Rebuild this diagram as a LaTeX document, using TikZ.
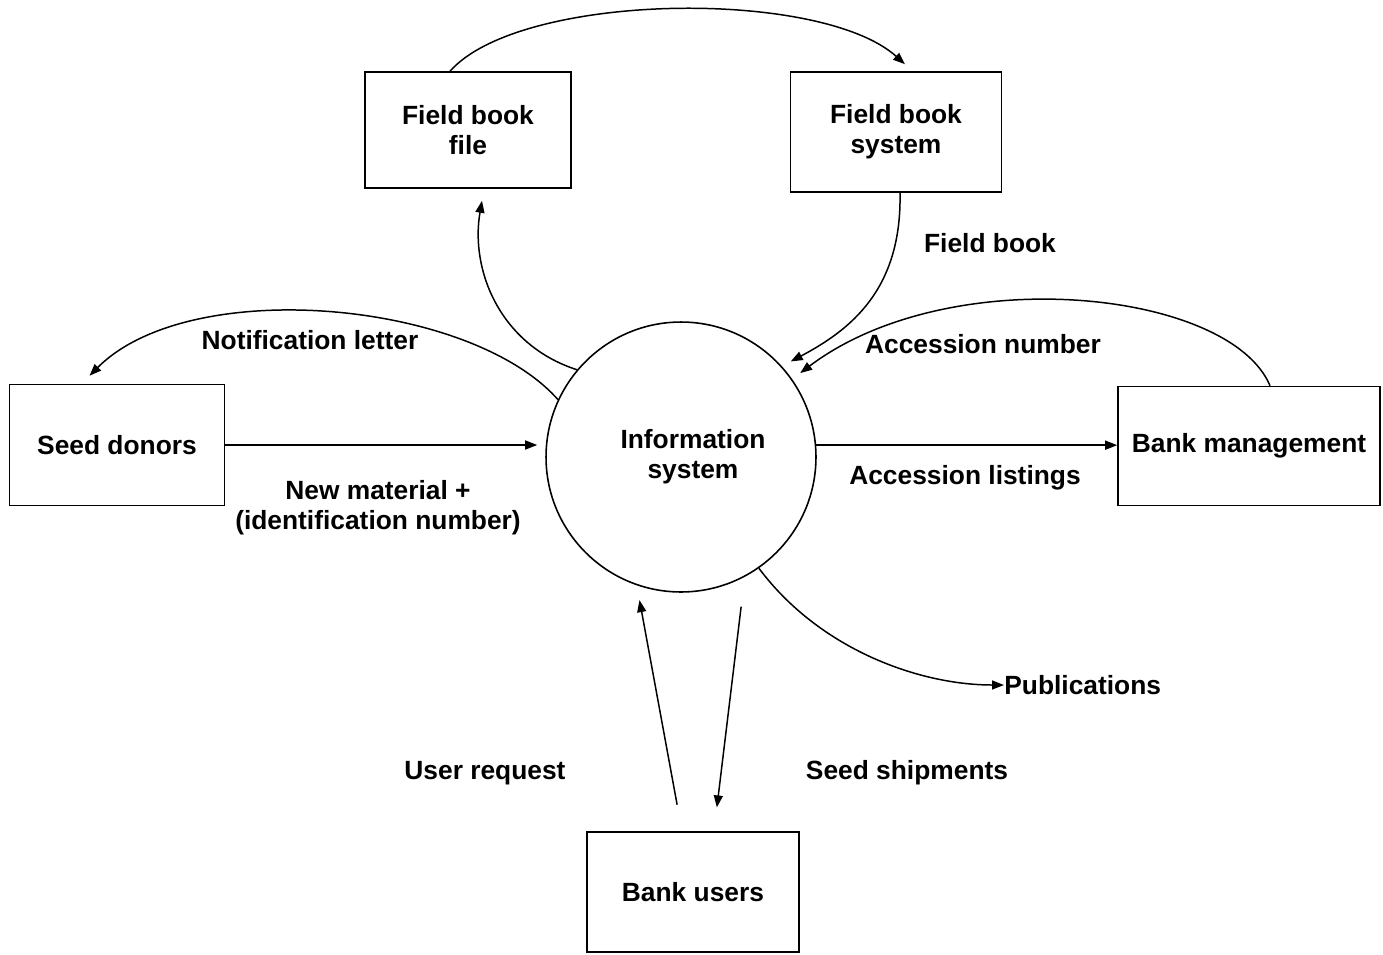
\documentclass[tikz,border=0pt]{standalone}
\usepackage{fontspec}
\setmainfont{Liberation Sans}
\usepackage{tikz}
\usetikzlibrary{arrows.meta,positioning,calc}

\begin{document}
\begin{tikzpicture}[
  x=0.02cm, y=-0.02cm,
  box/.style={rectangle, draw, line width=0.9pt, font=\fontsize{15}{17}\selectfont\bfseries, align=center},
  proc/.style={circle, draw, line width=0.9pt, minimum size=5.4cm, inner sep=0pt},
  lbl/.style={font=\fontsize{15}{17}\selectfont\bfseries, align=center, inner sep=0pt},
  flow/.style={-{Triangle[length=0.24cm,width=0.18cm]}, line width=0.85pt}
]
  \useasboundingbox (0,0) rectangle (1383,954);

  % Process
  \node[proc, label={[lbl, xshift=0.24cm]center:Information\\system}] (info) at (681,457) {};

  % External entities
  \node[box, minimum width=4.12cm, minimum height=2.32cm] (fbfile) at (468,130) {Field book\\file};
  \node[box, minimum width=4.22cm, minimum height=2.4cm] (fbsys) at (896,132) {Field book\\system};
  \node[box, minimum width=4.3cm, minimum height=2.42cm] (donors) at (117,445) {Seed donors};
  \node[box, minimum width=5.24cm, minimum height=2.38cm] (mgmt) at (1249,446) {Bank management};
  \node[box, minimum width=4.24cm, minimum height=2.4cm] (users) at (693,892) {Bank users};
  \node[lbl, anchor=west] (pub) at (1004,685) {Publications};

  % Flows
  \draw[flow] ([xshift=-0.36cm]fbfile.north) .. controls (520,-8) and (820,-12) .. ([xshift=0.18cm,yshift=0.14cm]fbsys.north);
  \draw[flow, shorten >=0.2cm] ([xshift=0.08cm]fbsys.south) .. controls (902,290) and (850,330) .. (info.42);
  \draw[flow, shorten >=0.2cm] ([xshift=0.42cm]mgmt.north) .. controls (1230,290) and (950,260) .. (info.35);
  \draw[flow] (info.140) .. controls (500,345) and (470,270) .. ([xshift=0.28cm,yshift=-0.24cm]fbfile.south);
  \draw[flow] (info.155) .. controls (470,300) and (190,275) .. ([xshift=-0.55cm,yshift=0.16cm]donors.north);
  \draw[flow, shorten >=0.16cm] (donors.east) -- (donors.east -| info.west);
  \draw[flow] (info.5) -- (info.5 -| mgmt.west);
  \draw[flow] (info.-55) .. controls (820,650) and (920,685) .. (pub.west);
  \draw[flow, shorten <=0.54cm, shorten >=0.3cm] ([xshift=-0.22cm]users.north) -- (info.-109);
  \draw[flow, shorten <=0.6cm, shorten >=0.48cm] (info.-62) -- ([xshift=0.42cm]users.north);

  % Flow labels
  \node[lbl] (fblbl) at (990,243) {Field book};
  \node[lbl] (notlbl) at (310,340) {Notification letter};
  \node[lbl] (acclbl) at (983,344) {Accession number};
  \node[lbl] (newlbl) at (378,508) {New material +\\(identification number)};
  \node[lbl] (listlbl) at (965,478) {Accession listings};
  \node[lbl] (reqlbl) at (485,773) {User request};
  \node[lbl] (shiplbl) at (907,773) {Seed shipments};
\end{tikzpicture}
\end{document}
